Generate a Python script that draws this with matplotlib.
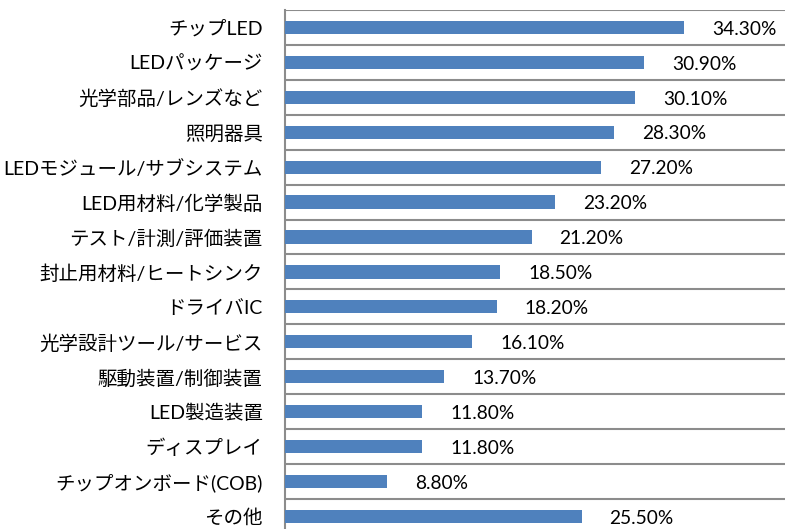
import matplotlib
matplotlib.use("Agg")
import matplotlib.pyplot as plt

plt.rcParams['font.family'] = ['Lato', 'Noto Sans CJK JP', 'DejaVu Sans']

categories = ["チップLED", "LEDパッケージ", "光学部品/レンズなど", "照明器具",
              "LEDモジュール/サブシステム", "LED用材料/化学製品", "テスト/計測/評価装置",
              "封止用材料/ヒートシンク", "ドライバIC", "光学設計ツール/サービス",
              "駆動装置/制御装置", "LED製造装置", "ディスプレイ", "チップオンボード(COB)", "その他"]
values = [34.3, 30.9, 30.1, 28.3, 27.2, 23.2, 21.2, 18.5, 18.2, 16.1,
          13.7, 11.8, 11.8, 8.8, 25.5]

fig = plt.figure(figsize=(7.87, 5.29), dpi=100)
ax = fig.add_axes([285 / 787, -0.009, 500 / 787, 0.99])

pos = list(range(len(categories)))
ax.barh(pos, values, height=0.38, color="#4F81BD", zorder=3)
for y, v in zip(pos, values):
    ax.text(v + 2.4, y + 0.05, f"{v:.2f}%", va="center", ha="left", fontsize=13.8)

ax.set_ylim(len(categories) - 0.5, -0.5)
ax.set_xlim(0, 43)
ax.set_yticks(pos)
ax.set_yticklabels(categories, fontsize=14)
ax.tick_params(axis="y", length=0, pad=16)
ax.set_xticks([])
ax.set_yticks([p + 0.5 for p in [-1] + pos], minor=True)
ax.tick_params(axis="y", which="minor", length=0)
ax.grid(axis="y", which="minor", color="#8c8c8c", linewidth=1.5)
for s in ["top", "right", "bottom"]:
    ax.spines[s].set_visible(False)
ax.spines["left"].set_color("#8c8c8c")
ax.spines["left"].set_linewidth(1.5)

fig.savefig("out.png", dpi=100)
